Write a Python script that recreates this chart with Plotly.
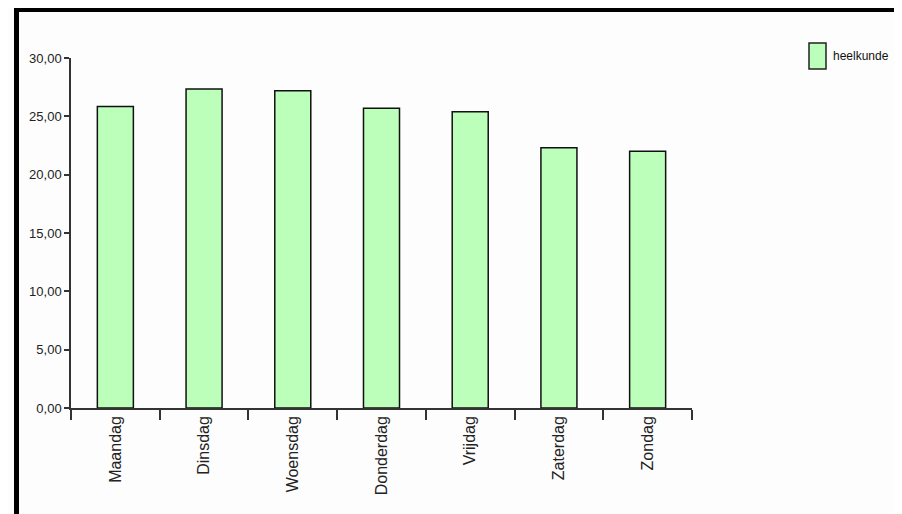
import plotly.graph_objects as go

days = ["Maandag", "Dinsdag", "Woensdag", "Donderdag", "Vrijdag", "Zaterdag", "Zondag"]
heelkunde = [25.85, 27.35, 27.2, 25.7, 25.4, 22.3, 22.0]
series_name = "heelkunde"

# page has an 8px body margin, so pixel positions are shifted by it
OFF = 8
W, H = 902 - OFF, 514 - OFF
L, R, T, B = 71 - OFF, 692 - OFF, 58 - OFF, 408 - OFF


def px(x):
    return (x - OFF - L) / (R - L)


def py(y):
    return (B - (y - OFF)) / (B - T)


fig = go.Figure(go.Bar(
    x=days, y=heelkunde, name=series_name,
    marker=dict(color="#bbffbb", line=dict(color="#111111", width=1.5)),
    showlegend=False,
))

shapes = [
    # black frame on top and left
    dict(type="rect", xref="paper", yref="paper", x0=px(14), x1=px(898), y0=py(12), y1=py(7),
         fillcolor="black", line_width=0, layer="above"),
    dict(type="rect", xref="paper", yref="paper", x0=px(14), x1=px(19), y0=py(520), y1=py(7),
         fillcolor="black", line_width=0, layer="above"),
    # legend swatch
    dict(type="rect", xref="paper", yref="paper", x0=px(809), x1=px(826), y0=py(69), y1=py(43),
         fillcolor="#bbffbb", line=dict(color="#222222", width=1.5)),
]

fig.update_layout(
    width=W, height=H,
    margin=dict(l=L, r=W - R, t=T, b=H - B, pad=0),
    paper_bgcolor="#fdfdfd", plot_bgcolor="#fdfdfd",
    separators=",.",
    bargap=0.594,
    font=dict(family="Liberation Sans, Arial", size=13, color="#222222"),
    shapes=shapes,
    annotations=[dict(text=series_name, xref="paper", yref="paper", x=px(831), y=py(56),
                      xanchor="left", yanchor="middle", showarrow=False,
                      font=dict(size=12, color="#111111"))],
)
fig.update_yaxes(range=[0, 30], dtick=5, tickformat=".2f", showgrid=False, zeroline=False,
                 showline=True, linecolor="#333333", linewidth=1.5,
                 ticks="outside", ticklen=5, tickcolor="#333333", tickwidth=1.5,
                 tickfont=dict(size=13))
fig.update_xaxes(showgrid=False, showline=True, linecolor="#333333", linewidth=1.5,
                 ticks="outside", tickson="boundaries", ticklen=10, tickcolor="#333333",
                 tickwidth=1.5, tickangle=-90, tickfont=dict(size=16))

fig.write_html("out.html")
